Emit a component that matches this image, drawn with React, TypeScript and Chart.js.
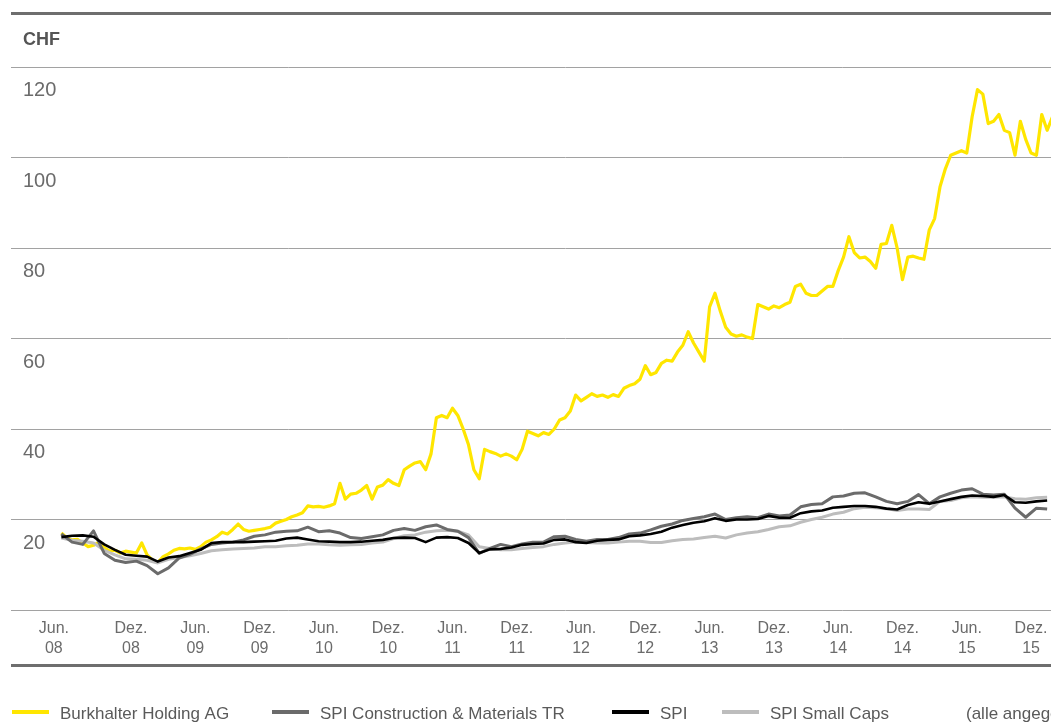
import React, { useEffect, useRef } from 'react';
import { Chart, registerables } from 'chart.js';

Chart.register(...registerables);

// Time axis: months since June 2008 (0 = Jun. 08)
const burkhalterStart = -0.5;
const burkhalterStep = 0.5;
const burkhalter = [
  17.0, 16.0, 15.5, 15.6, 14.8, 14.0, 14.3, 15.0, 13.8, 13.0,
  13.2, 12.6, 13.0, 12.8, 12.6, 14.8, 12.2, 11.0, 10.5, 11.8,
  12.4, 13.2, 13.6, 13.5, 13.7, 13.4, 14.0, 15.0, 15.5, 16.2,
  17.2, 16.8, 17.8, 19.0, 17.8, 17.4, 17.6, 17.8, 18.0, 18.3,
  19.2, 19.6, 20.0, 20.6, 21.0, 21.5, 23.0, 22.8, 22.9, 22.7,
  23.0, 23.5, 28.0, 24.5, 25.6, 25.8, 26.5, 27.5, 24.5, 27.2,
  27.6, 28.8, 28.0, 27.5, 31.0, 31.8, 32.5, 32.8, 31.0, 34.5,
  42.5, 43.0, 42.5, 44.6, 43.0, 40.0, 36.5, 31.0, 29.0, 35.5,
  35.0, 34.6, 34.0, 34.5, 34.0, 33.2, 35.5, 39.5, 39.0, 38.5,
  39.2, 38.8, 40.0, 42.0, 42.5, 44.0, 47.5, 46.2, 47.0, 47.8,
  47.2, 47.5, 47.0, 47.6, 47.2, 49.0, 49.6, 50.0, 51.0, 54.0,
  52.0, 52.5, 54.5, 55.2, 55.0, 57.0, 58.5, 61.5, 59.0, 57.0,
  55.0, 67.0, 70.0, 66.0, 62.5, 61.0, 60.5, 60.8, 60.3, 60.0,
  67.5, 67.0, 66.5, 67.2, 66.8, 67.5, 68.0, 71.5, 72.0, 70.0,
  69.5, 69.5, 70.5, 71.5, 71.5, 75.0, 78.0, 82.5, 79.0, 77.8,
  78.0, 77.0, 75.5, 80.8, 81.0, 85.0, 80.0, 73.0, 78.0, 78.2,
  77.8, 77.5, 84.0, 86.5, 93.5, 97.5, 100.5, 101.0, 101.5, 101.0,
  109.0, 115.0, 114.0, 107.5, 108.0, 109.5, 106.0, 105.5, 100.5, 108.0,
  104.0, 101.0, 100.5, 109.5, 106.0, 109.0,
];

const indexStart = -0.5;
const indexStep = 1;
const spiConstruction = [
  16.8, 15.0, 14.5, 17.5, 12.5, 11.0, 10.5, 10.8, 9.8, 8.0,
  9.3, 11.5, 12.3, 13.5, 14.5, 14.8, 15.0, 15.5, 16.3, 16.6,
  17.2, 17.4, 17.5, 18.3, 17.3, 17.5, 17.0, 16.0, 15.8, 16.2,
  16.6, 17.6, 18.0, 17.6, 18.4, 18.8, 17.8, 17.4, 16.0, 12.5,
  13.6, 14.5, 14.0, 14.6, 15.0, 15.0, 16.2, 16.3, 15.6, 15.2,
  15.6, 15.6, 16.0, 16.8, 17.0, 17.7, 18.5, 19.0, 19.8, 20.2,
  20.6, 21.2, 20.0, 20.4, 20.6, 20.4, 21.2, 20.8, 21.0, 22.8,
  23.3, 23.5, 25.0, 25.2, 25.8, 25.9, 25.0, 24.0, 23.5, 24.0,
  25.5, 23.5, 25.0, 25.8, 26.5, 26.8, 25.6, 25.4, 25.6, 22.5,
  20.5, 22.5, 22.3,
];
const spi = [
  16.1, 16.4, 16.5, 16.2, 14.5, 13.3, 12.2, 12.0, 11.8, 10.7,
  11.6, 11.9, 12.6, 13.3, 14.8, 15.0, 15.0, 15.0, 15.1, 15.2,
  15.3, 15.8, 16.0, 15.6, 15.2, 15.1, 15.0, 15.0, 15.1, 15.3,
  15.5, 15.9, 16.0, 15.9, 15.0, 16.0, 16.1, 15.9, 14.8, 12.6,
  13.4, 13.5, 13.8, 14.4, 14.6, 14.7, 15.5, 15.6, 15.0, 14.8,
  15.3, 15.5, 15.6, 16.3, 16.5, 16.8, 17.3, 18.2, 18.8, 19.3,
  19.6, 20.3, 19.7, 20.0, 20.0, 20.1, 20.8, 20.4, 20.4, 21.4,
  21.8, 22.0, 22.6, 22.8, 23.0, 23.0, 22.8, 22.4, 22.2, 23.2,
  23.8, 23.5, 24.0, 24.5, 25.0, 25.3, 25.2, 25.0, 25.4, 23.8,
  23.7, 24.0, 24.2,
];
const spiSmallCaps = [
  15.9, 15.4, 15.2, 14.8, 13.2, 12.2, 11.3, 11.2, 11.0, 10.4,
  11.2, 11.6, 12.0, 12.5, 13.1, 13.3, 13.5, 13.6, 13.7, 14.0,
  14.0, 14.2, 14.3, 14.6, 14.6, 14.4, 14.3, 14.4, 14.5, 14.8,
  15.0, 15.8, 16.4, 16.6, 17.2, 17.5, 17.6, 17.4, 16.6, 14.0,
  13.6, 13.3, 13.3, 13.6, 13.8, 14.0, 14.5, 14.8, 15.0, 14.9,
  14.8, 14.8, 15.0, 15.2, 15.2, 14.9, 14.9, 15.3, 15.6, 15.7,
  16.0, 16.3, 15.9, 16.6, 17.0, 17.3, 17.8, 18.4, 18.6, 19.4,
  20.0, 20.5, 21.2, 21.6, 22.4, 22.7, 22.6, 22.4, 22.0, 22.3,
  22.3, 22.2, 24.0, 24.2, 24.8, 25.0, 24.9, 24.9, 25.0, 24.6,
  24.5, 24.8, 24.9,
];

const xTickMonths = [-1.2, 6, 12, 18, 24, 30, 36, 42, 48, 54, 60, 66, 72, 78, 84, 90];
const xTickLabels = [
  ['Jun.', '08'], ['Dez.', '08'], ['Jun.', '09'], ['Dez.', '09'],
  ['Jun.', '10'], ['Dez.', '10'], ['Jun.', '11'], ['Dez.', '11'],
  ['Jun.', '12'], ['Dez.', '12'], ['Jun.', '13'], ['Dez.', '13'],
  ['Jun.', '14'], ['Dez.', '14'], ['Jun.', '15'], ['Dez.', '15'],
];
const yMin = 0;
const yMax = 120;
const yStep = 20;

const unitLabel = 'CHF';
const seriesNames = ['Burkhalter Holding AG', 'SPI Construction & Materials TR', 'SPI', 'SPI Small Caps'];
const seriesColors = ['#ffe600', '#6b6b6b', '#000000', '#bdbdbd'];
const legendX = [12, 272, 612, 722];
const noteText = '(alle angegebenen Werte indexiert)';

const FONT = '"Liberation Sans", Arial, sans-serif';

function toPoints(values: number[], start: number, step: number) {
  return values.map((v, i) => ({ x: start + i * step, y: v }));
}

const framePlugin = {
  id: 'frame',
  afterDraw(chart: any) {
    const { ctx, chartArea } = chart;
    ctx.save();
    ctx.strokeStyle = '#6e6e6e';
    ctx.lineWidth = 3;
    ctx.beginPath();
    ctx.moveTo(chartArea.left, 13.5);
    ctx.lineTo(chart.width, 13.5);
    ctx.stroke();
    ctx.beginPath();
    ctx.moveTo(chartArea.left, chartArea.bottom + 55.5);
    ctx.lineTo(chart.width, chartArea.bottom + 55.5);
    ctx.stroke();

    ctx.fillStyle = '#555555';
    ctx.font = `bold 18px ${FONT}`;
    ctx.textBaseline = 'middle';
    ctx.textAlign = 'left';
    ctx.fillText(unitLabel, 23, 40);

    const ly = 712;
    ctx.font = `17px ${FONT}`;
    seriesNames.forEach((name, i) => {
      const x = legendX[i];
      ctx.strokeStyle = seriesColors[i];
      ctx.lineWidth = 4;
      ctx.beginPath();
      ctx.moveTo(x, ly);
      ctx.lineTo(x + 37, ly);
      ctx.stroke();
      ctx.fillStyle = '#5a5a5a';
      ctx.fillText(name, x + 48, ly + 2);
    });
    ctx.fillText(noteText, 966, ly + 2);
    ctx.restore();
  },
};

export default function App() {
  const canvasRef = useRef<HTMLCanvasElement | null>(null);

  useEffect(() => {
    if (!canvasRef.current) return;
    Chart.defaults.font.family = FONT;
    const common = { pointRadius: 0, tension: 0, borderJoinStyle: 'round' as const, fill: false };
    const chart = new Chart(canvasRef.current, {
      type: 'line',
      data: {
        datasets: [
          { ...common, label: seriesNames[2], data: toPoints(spi, indexStart, indexStep), borderColor: seriesColors[2], borderWidth: 2.6, order: 0 },
          { ...common, label: seriesNames[1], data: toPoints(spiConstruction, indexStart, indexStep), borderColor: seriesColors[1], borderWidth: 3, order: 1 },
          { ...common, label: seriesNames[3], data: toPoints(spiSmallCaps, indexStart, indexStep), borderColor: seriesColors[3], borderWidth: 3, order: 2 },
          { ...common, label: seriesNames[0], data: toPoints(burkhalter, burkhalterStart, burkhalterStep), borderColor: seriesColors[0], borderWidth: 3.2, order: 3 },
        ],
      },
      options: {
        responsive: false,
        animation: false,
        layout: { padding: { left: 11, top: 67, right: 0, bottom: 74 } },
        plugins: {
          legend: { display: false },
          tooltip: { enabled: false },
          title: { display: false },
        },
        scales: {
          x: {
            type: 'linear',
            min: -5.2,
            max: 98.3,
            grid: { display: false, drawTicks: false },
            border: { display: false },
            afterBuildTicks: (scale: any) => {
              scale.ticks = xTickMonths.map((v) => ({ value: v }));
            },
            afterFit: (scale: any) => {
              scale.height = 56;
            },
            ticks: {
              autoSkip: false,
              maxRotation: 0,
              minRotation: 0,
              padding: 9,
              color: '#6b6b6b',
              font: { size: 16, lineHeight: 1.25 },
              callback: (_v: any, i: number) => xTickLabels[i],
            },
          },
          y: {
            type: 'linear',
            min: yMin,
            max: yMax,
            grid: { color: '#a2a2a2', lineWidth: 1, drawTicks: false },
            border: { display: false },
            afterFit: (scale: any) => {
              scale.width = 0;
            },
            ticks: {
              stepSize: yStep,
              mirror: true,
              padding: 12,
              labelOffset: 23.5,
              color: '#6b6b6b',
              font: { size: 20 },
              callback: (v: any) => (v === 0 ? '' : String(v)),
            },
          },
        },
      },
      plugins: [framePlugin],
    });
    return () => chart.destroy();
  }, []);

  return (
    <div style={{ position: 'fixed', left: 0, top: 0, width: 1051, height: 722, overflow: 'hidden', background: '#ffffff' }}>
      <canvas ref={canvasRef} width={1120} height={740} style={{ display: 'block', width: 1120, height: 740 }} />
    </div>
  );
}
